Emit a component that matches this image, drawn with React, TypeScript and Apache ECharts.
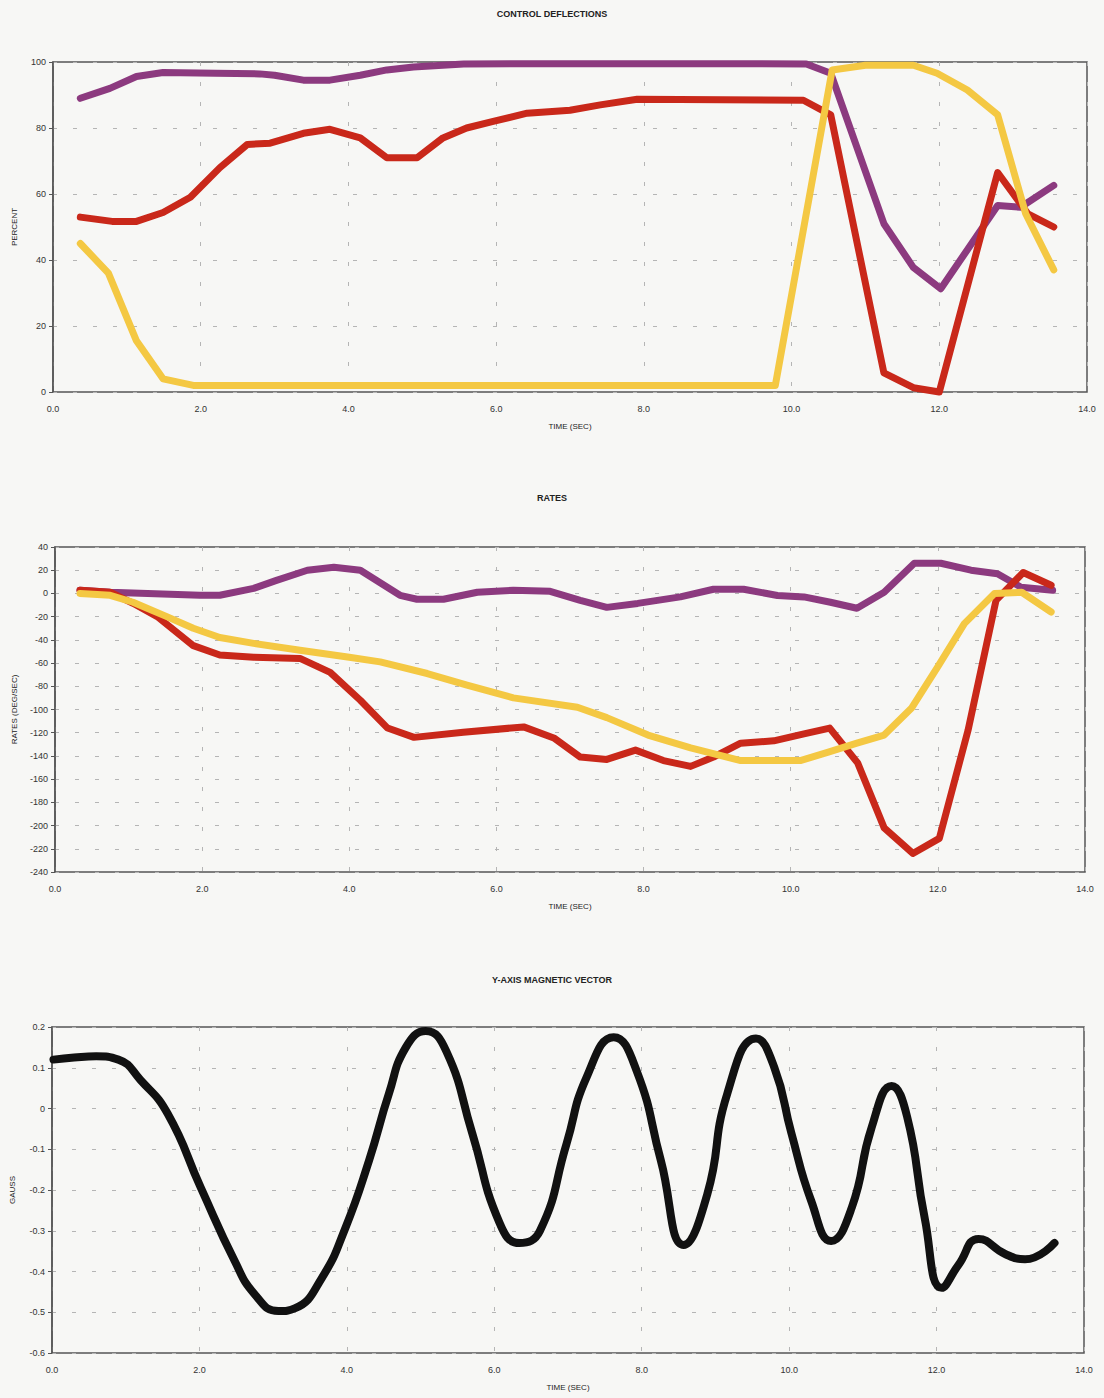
import React, { useEffect, useRef } from "react";
import * as echarts from "echarts";

// ---------- CONTROL DEFLECTIONS (PERCENT) ----------
const cdPurpleT = [0.37, 0.77, 1.13, 1.49, 2.2, 2.8, 3.0, 3.39, 3.75, 4.16, 4.52, 4.88, 5.56, 6.5, 8.0, 9.5, 10.2, 10.53, 11.25, 11.65, 12.02, 12.79, 13.1, 13.55];
const cdPurpleV = [89, 92, 95.6, 96.8, 96.6, 96.4, 96, 94.5, 94.5, 96, 97.6, 98.5, 99.4, 99.5, 99.5, 99.5, 99.4, 96.6, 51, 37.7, 31.3, 56.5, 56, 62.6];

const cdRedT = [0.37, 0.8, 1.13, 1.49, 1.86, 2.26, 2.63, 2.94, 3.39, 3.75, 4.16, 4.52, 4.93, 5.28, 5.6, 5.96, 6.42, 7.0, 7.41, 7.91, 10.16, 10.53, 11.25, 11.65, 12.0, 12.79, 13.2, 13.55];
const cdRedV = [53, 51.7, 51.7, 54.4, 59, 68, 75, 75.4, 78.4, 79.6, 77, 71, 71, 77, 80, 82, 84.5, 85.4, 87, 88.7, 88.4, 84, 5.8, 1.3, 0, 66.5, 54, 50];

const cdYellowT = [0.37, 0.75, 1.13, 1.49, 1.9, 9.78, 10.55, 11.0, 11.65, 11.97, 12.38, 12.79, 13.17, 13.55];
const cdYellowV = [45, 36, 15.5, 4, 2, 2, 97.6, 99, 99, 96.6, 91.5, 84, 54, 37];

// ---------- RATES (DEG/SEC) ----------
const rtPurpleT = [0.34, 0.75, 1.97, 2.24, 2.7, 3.0, 3.43, 3.79, 4.15, 4.69, 4.92, 5.28, 5.74, 6.23, 6.73, 7.14, 7.5, 7.92, 8.5, 8.95, 9.36, 9.82, 10.18, 10.54, 10.9, 11.27, 11.68, 12.04, 12.45, 12.81, 13.13, 13.56];
const rtPurpleV = [2.7, 1, -1.6, -1.6, 4.4, 11, 20, 22.5, 20, -1.6, -5, -5, 1, 2.7, 1.8, -6, -12, -8.6, -3, 3.6, 3.6, -1.8, -3, -7.6, -12.8, 1, 26, 26, 20, 17, 5.3, 2.7];

const rtRedT = [0.34, 0.75, 1.06, 1.39, 1.88, 2.24, 2.7, 3.33, 3.74, 4.15, 4.52, 4.88, 5.55, 6.37, 6.78, 7.14, 7.5, 7.89, 8.27, 8.64, 8.95, 9.32, 9.77, 10.18, 10.53, 10.91, 11.27, 11.66, 12.02, 12.41, 12.79, 13.16, 13.54];
const rtRedV = [2.7, 1, -8.5, -20, -45, -53, -55, -56, -68, -92, -116, -124, -119.6, -115, -124.5, -141, -143, -135, -144, -149, -141, -129, -127, -121, -116, -146, -202, -224, -211, -118, -6, 18, 7];

const rtYellowT = [0.34, 0.75, 1.06, 1.52, 1.88, 2.24, 2.7, 3.33, 4.0, 4.42, 5.06, 5.6, 6.23, 7.1, 7.5, 8.06, 8.64, 9.32, 9.77, 10.13, 10.5, 10.9, 11.27, 11.64, 12.0, 12.36, 12.77, 13.14, 13.54];
const rtYellowV = [0, -1.6, -7.6, -20, -30, -38, -43, -49, -55, -59, -69, -79, -90, -98, -107, -122, -133, -144, -144, -144, -137, -129, -122, -99, -63, -26, 0, 1, -16];

// ---------- Y-AXIS MAGNETIC VECTOR (GAUSS) ----------
const magT = [0.02, 0.3, 0.6, 0.9, 1.2, 1.57, 2.02, 2.48, 2.75, 3.07, 3.3, 3.66, 3.98, 4.3, 4.57, 4.8, 5.07, 5.35, 5.7, 6.07, 6.34, 6.62, 6.98, 7.25, 7.62, 7.93, 8.26, 8.57, 8.89, 9.16, 9.55, 9.8, 10.03, 10.3, 10.57, 10.85, 11.12, 11.39, 11.6, 11.84, 12.07, 12.3, 12.57, 12.93, 13.2, 13.6];
const magV = [0.12, 0.125, 0.128, 0.12, 0.07, -0.013, -0.195, -0.375, -0.456, -0.497, -0.49, -0.416, -0.293, -0.128, 0.036, 0.15, 0.19, 0.14, -0.06, -0.28, -0.33, -0.3, -0.087, 0.076, 0.175, 0.093, -0.128, -0.335, -0.21, 0.036, 0.172, 0.1, -0.06, -0.227, -0.325, -0.243, -0.046, 0.055, -0.02, -0.27, -0.44, -0.383, -0.32, -0.357, -0.37, -0.33];

const titles = ["CONTROL DEFLECTIONS", "RATES", "Y-AXIS MAGNETIC VECTOR"];
const yNames = ["PERCENT", "RATES (DEG/SEC)", "GAUSS"];
const xName = "TIME (SEC)";

const PURPLE = "#8c3a7f";
const RED = "#c9281a";
const YELLOW = "#f4c843";
const BLACK = "#111111";

function pairs(t: number[], v: number[]) {
  return t.map((x, i) => [x, v[i]]);
}

export default function App() {
  const ref = useRef<HTMLDivElement>(null);
  useEffect(() => {
    if (!ref.current) return;
    const chart = echarts.init(ref.current, null, { renderer: "svg" });
    const font = "'Liberation Sans', Arial, sans-serif";
    const labelStyle = { color: "#333", fontSize: 9, fontFamily: font };
    const split = { show: true, lineStyle: { color: "#b5b5b5", type: [4, 16] as any, width: 1 } };
    const grids = [
      { left: 53, top: 62, width: 1034, height: 330 },
      { left: 55, top: 547, width: 1030, height: 325 },
      { left: 52, top: 1027, width: 1032, height: 326 },
    ].map((g) => ({ ...g, show: true, borderColor: "#555", borderWidth: 1.5, backgroundColor: "transparent" }));

    const xAxes = [0, 1, 2].map((i) => ({
      type: "value",
      gridIndex: i,
      min: 0,
      max: 14,
      interval: 2,
      name: xName,
      nameLocation: "middle",
      nameGap: 30,
      nameTextStyle: { color: "#222", fontSize: 8, fontFamily: font },
      axisLine: { show: false },
      axisTick: { show: false },
      axisLabel: { ...labelStyle, margin: 12, formatter: (v: number) => v.toFixed(1) },
      splitLine: split,
    }));

    const yCfg = [
      { min: 0, max: 100, interval: 20, gap: 35, fmt: (v: number) => String(v) },
      { min: -240, max: 40, interval: 20, gap: 37, fmt: (v: number) => String(v) },
      { min: -0.6, max: 0.2, interval: 0.1, gap: 36, fmt: (v: number) => (Math.abs(v) < 1e-9 ? "0" : v.toFixed(1)) },
    ];
    const yAxes = yCfg.map((c, i) => ({
      type: "value",
      gridIndex: i,
      min: c.min,
      max: c.max,
      interval: c.interval,
      name: yNames[i],
      nameLocation: "middle",
      nameGap: c.gap,
      nameTextStyle: { color: "#222", fontSize: 8, fontFamily: font },
      axisLine: { show: true, lineStyle: { color: "#555", width: 1.5 } },
      axisTick: { show: true, length: 4, lineStyle: { color: "#555" } },
      axisLabel: { ...labelStyle, margin: 7, formatter: c.fmt },
      splitLine: split,
    }));

    const line = (xi: number, data: number[][], color: string, width = 7, smooth: any = false) => ({
      type: "line",
      xAxisIndex: xi,
      yAxisIndex: xi,
      data,
      showSymbol: false,
      smooth,
      clip: false,
      lineStyle: { color, width, cap: "round", join: "round" },
      itemStyle: { color },
    });

    chart.setOption({
      animation: false,
      backgroundColor: "#f7f7f5",
      title: titles.map((t, i) => ({
        text: t,
        left: "center",
        top: [4, 488, 970][i],
        textStyle: { fontSize: 9, fontWeight: "bold", color: "#222", fontFamily: font },
      })),
      grid: grids,
      xAxis: xAxes,
      yAxis: yAxes,
      series: [
        line(0, pairs(cdPurpleT, cdPurpleV), PURPLE),
        line(0, pairs(cdRedT, cdRedV), RED),
        line(0, pairs(cdYellowT, cdYellowV), YELLOW),
        line(1, pairs(rtPurpleT, rtPurpleV), PURPLE),
        line(1, pairs(rtRedT, rtRedV), RED),
        line(1, pairs(rtYellowT, rtYellowV), YELLOW),
        line(2, pairs(magT, magV), BLACK, 8, 0.5),
      ],
    });
    return () => chart.dispose();
  }, []);
  return <div ref={ref} style={{ position: "absolute", left: 0, top: 0, width: 1104, height: 1398 }} />;
}
